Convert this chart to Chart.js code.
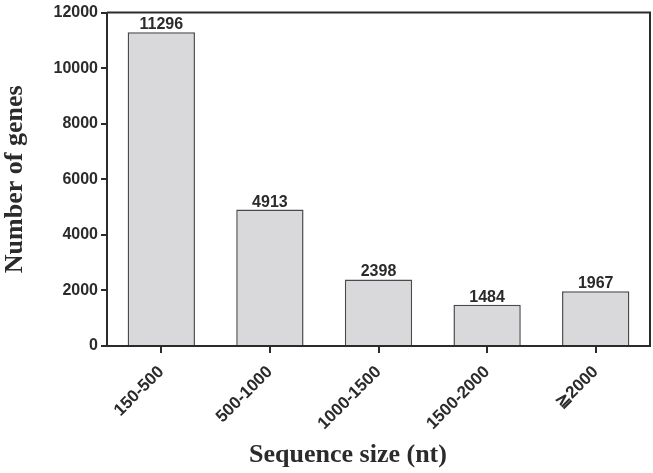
<!DOCTYPE html>
<html>
<head>
<meta charset="utf-8">
<script src="https://cdn.jsdelivr.net/npm/chart.js@4.4.0/dist/chart.umd.min.js"></script>
<style>
  html, body { margin: 0; padding: 0; background: #fff; }
  #wrap { width: 653px; height: 473px; }
</style>
</head>
<body>
<div id="wrap"><canvas id="chart"></canvas></div>
<script>
// --- data ---
const categories = ['150-500', '500-1000', '1000-1500', '1500-2000', '\u22672000'];
const geneCounts = [11296, 4913, 2398, 1484, 1967];
const yTicks = [0, 2000, 4000, 6000, 8000, 10000, 12000];

const ink = '#2b2b2b';
const sans = '"Liberation Sans", Arial, sans-serif';
const serif = '"Liberation Serif", "Times New Roman", serif';

// value labels above bars, top/right frame, axis titles
const decorations = {
    id: 'decorations',
    afterDatasetsDraw(chart) {
        const ctx = chart.ctx;
        const meta = chart.getDatasetMeta(0);
        ctx.save();
        ctx.font = 'bold 16px ' + sans;
        ctx.fillStyle = ink;
        ctx.textAlign = 'center';
        ctx.textBaseline = 'alphabetic';
        meta.data.forEach((bar, i) => {
            ctx.fillText(String(geneCounts[i]), bar.x, bar.y - 3);
        });
        const a = chart.chartArea;
        ctx.strokeStyle = ink;
        ctx.lineWidth = 2;
        ctx.beginPath();
        ctx.moveTo(a.left, a.top);
        ctx.lineTo(a.right, a.top);
        ctx.lineTo(a.right, a.bottom);
        ctx.stroke();

        // axis titles
        ctx.font = 'bold 26px ' + serif;
        ctx.textBaseline = 'middle';
        ctx.fillText('Sequence size (nt)', 348, 455);
        ctx.translate(15, (a.top + a.bottom) / 2);
        ctx.rotate(-Math.PI / 2);
        ctx.fillText('Number of genes', 0, 0);
        ctx.restore();
    }
};

new Chart(document.getElementById('chart'), {
    type: 'bar',
    data: {
        labels: categories,
        datasets: [{
            data: geneCounts,
            backgroundColor: '#d9d9db',
            borderColor: '#4a4a4a',
            borderWidth: 1.5,
            barPercentage: 0.62,
            categoryPercentage: 1.0
        }]
    },
    options: {
        responsive: true,
        maintainAspectRatio: false,
        animation: false,
        layout: { padding: { top: 7, right: 3, left: 0, bottom: 0 } },
        plugins: { legend: { display: false }, tooltip: { enabled: false } },
        scales: {
            x: {
                grid: { drawOnChartArea: false, drawTicks: true, tickLength: 7, color: ink, lineWidth: 2, offset: false },
                border: { color: ink, width: 2 },
                ticks: {
                    color: ink,
                    font: { family: sans, size: 17, weight: 'bold' },
                    minRotation: 45, maxRotation: 45, padding: 9
                },
                afterFit(scale) { scale.height = 127; }
            },
            y: {
                min: 0, max: 12000,
                afterBuildTicks(scale) { scale.ticks = yTicks.map(v => ({ value: v })); },
                grid: { drawOnChartArea: false, drawTicks: true, tickLength: 6, color: ink, lineWidth: 2 },
                border: { color: ink, width: 2 },
                ticks: {
                    color: ink,
                    font: { family: sans, size: 16, weight: 'bold' },
                    padding: 3,
                    callback: v => String(v)
                },
                afterFit(scale) { scale.width = 107; }
            }
        }
    },
    plugins: [decorations]
});
</script>
</body>
</html>
